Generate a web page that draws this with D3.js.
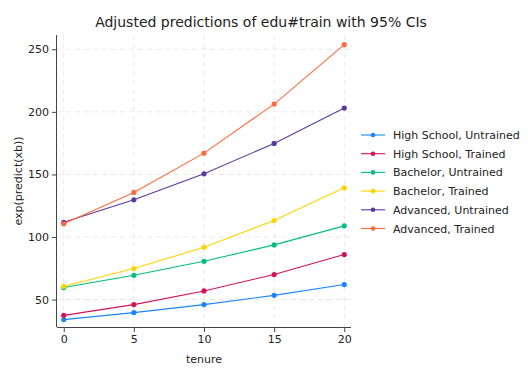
<!DOCTYPE html>
<html>
<head>
<meta charset="utf-8">
<script src="https://cdn.jsdelivr.net/npm/d3@7"></script>
<style>
  body { margin: 0; background: #fff; }
  text { font-family: "DejaVu Sans", sans-serif; fill: #222; }
</style>
</head>
<body>
<div id="chart"></div>
<script>
var tenure = [0, 5, 10, 15, 20];
var seriesNames = ["High School, Untrained", "High School, Trained", "Bachelor, Untrained",
                   "Bachelor, Trained", "Advanced, Untrained", "Advanced, Trained"];
var hsUntrained = [34, 39.6, 46, 53.4, 62];
var hsTrained = [37.4, 46, 56.9, 70, 86];
var baUntrained = [59.6, 69.4, 80.6, 93.7, 108.9];
var baTrained = [60.6, 74.8, 91.8, 113.2, 139.3];
var advUntrained = [111.8, 129.7, 150.5, 174.8, 203];
var advTrained = [110.5, 135.6, 167, 206.2, 253.7];
var colors = ["#1a85ff", "#d41159", "#00bf7f", "#ffd400", "#5a3a9e", "#ff6a3d"];
var yTicks = [50, 100, 150, 200, 250];
var xTicks = [0, 5, 10, 15, 20];

var series = [hsUntrained, hsTrained, baUntrained, baTrained, advUntrained, advTrained];

var W = 528, H = 384;
var margin = {top: 35, right: 177, bottom: 57, left: 57};
var width = W - margin.left - margin.right,
    height = H - margin.top - margin.bottom;

var svg = d3.select("#chart").append("svg")
    .attr("width", W)
    .attr("height", H);

var g = svg.append("g")
    .attr("transform", "translate(" + margin.left + "," + margin.top + ")");

var x = d3.scaleLinear().domain([-0.48, 20.48]).range([0, width]);
var y = d3.scaleLinear().domain([28.1, 261.4]).range([height, 0]);

// grid
g.selectAll(".gx").data(xTicks).enter().append("line")
    .attr("x1", function(d) { return x(d); })
    .attr("x2", function(d) { return x(d); })
    .attr("y1", 0).attr("y2", height)
    .attr("stroke", "#e8e8e8")
    .attr("stroke-dasharray", "5,4");
g.selectAll(".gy").data(yTicks).enter().append("line")
    .attr("x1", 0).attr("x2", width)
    .attr("y1", function(d) { return y(d); })
    .attr("y2", function(d) { return y(d); })
    .attr("stroke", "#e8e8e8")
    .attr("stroke-dasharray", "5,4");

var xAxis = d3.axisBottom(x).tickValues(xTicks).tickSize(5).tickPadding(3);
var yAxis = d3.axisLeft(y).tickValues(yTicks).tickSize(5).tickPadding(3);

var gx = g.append("g")
    .attr("transform", "translate(0," + height + ")")
    .call(xAxis);
var gy = g.append("g").call(yAxis);

[gx, gy].forEach(function(a) {
  a.select(".domain").attr("stroke", "#444").attr("d", function() {
    return a === gx ? "M0,0.5H" + width : "M-0.5,0V" + height;
  });
  a.selectAll(".tick line").attr("stroke", "#444");
  a.selectAll(".tick text").style("font-size", "11px").style("font-family", "DejaVu Sans").attr("fill", "#222");
});

var line = d3.line()
    .x(function(d, i) { return x(tenure[i]); })
    .y(function(d) { return y(d); });

series.forEach(function(s, k) {
  g.append("path")
    .datum(s)
    .attr("d", line)
    .attr("fill", "none")
    .attr("stroke", colors[k])
    .attr("stroke-width", 1.1);
  g.selectAll(".pt" + k).data(s).enter().append("circle")
    .attr("cx", function(d, i) { return x(tenure[i]); })
    .attr("cy", function(d) { return y(d); })
    .attr("r", 2.6)
    .attr("fill", colors[k]);
});

// labels
svg.append("text")
    .attr("x", 261).attr("y", 27)
    .style("text-anchor", "middle")
    .style("font-size", "14px")
    .text("Adjusted predictions of edu#train with 95% CIs");

svg.append("text")
    .attr("transform", "translate(22," + (margin.top + height / 2) + ") rotate(-90)")
    .style("text-anchor", "middle")
    .style("font-size", "11px")
    .text("exp(predict(xb))");

svg.append("text")
    .attr("x", margin.left + width / 2).attr("y", 363)
    .style("text-anchor", "middle")
    .style("font-size", "11px")
    .text("tenure");

// legend
var legend = svg.append("g").attr("transform", "translate(361,135)");
seriesNames.forEach(function(n, k) {
  var row = legend.append("g").attr("transform", "translate(0," + (k * 18.7) + ")");
  row.append("line").attr("x1", 0).attr("x2", 24).attr("y1", 0).attr("y2", 0)
    .attr("stroke", colors[k]).attr("stroke-width", 1.1);
  row.append("circle").attr("cx", 12).attr("cy", 0).attr("r", 2.3).attr("fill", colors[k]);
  row.append("text").attr("x", 32).attr("y", 4)
    .style("font-size", "11px")
    .text(n);
});
</script>
</body>
</html>
